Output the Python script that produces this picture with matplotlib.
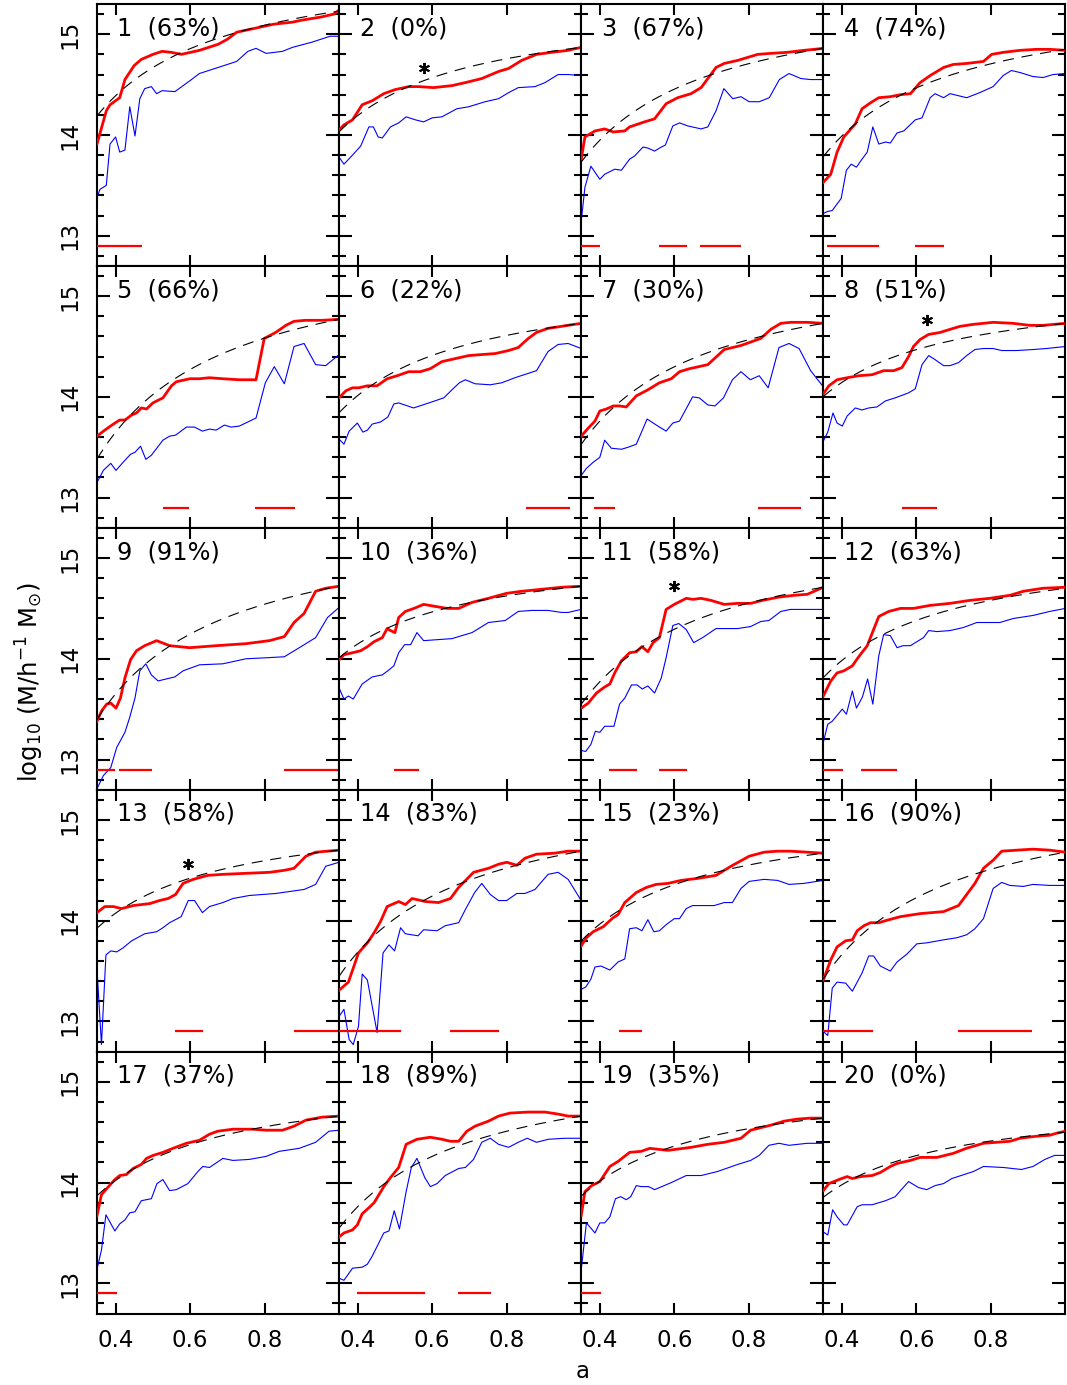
import numpy as np
import matplotlib
matplotlib.use("Agg")
import matplotlib.pyplot as plt
from matplotlib.ticker import MultipleLocator, FixedLocator

plt.rcParams['font.family'] = ['DejaVu Sans']

# ---------------------------------------------------------------------------
# Mass accretion histories: (expansion factor a, log10 M [M/h^-1 Msun])
# red = main halo, blue = second track
# ---------------------------------------------------------------------------
red01 = [(0.350,13.91),(0.375,14.24),(0.385,14.30),(0.400,14.34),(0.411,14.37),(0.425,14.55),(0.450,14.69),(0.469,14.75),(0.500,14.80),(0.525,14.83),(0.550,14.82),(0.576,14.80),(0.625,14.84),(0.675,14.90),(0.700,14.95),(0.725,15.02),(0.775,15.06),(0.825,15.10),(0.875,15.12),(0.900,15.14),(0.950,15.17),(0.986,15.20),(1.000,15.24)]
blue01 = [(0.350,13.38),(0.358,13.46),(0.375,13.50),(0.385,13.91),(0.400,13.98),(0.411,13.83),(0.425,13.85),(0.438,14.28),(0.452,13.99),(0.465,14.36),(0.478,14.46),(0.496,14.48),(0.510,14.41),(0.525,14.44),(0.559,14.43),(0.600,14.54),(0.625,14.61),(0.675,14.67),(0.725,14.73),(0.755,14.83),(0.777,14.86),(0.804,14.81),(0.848,14.83),(0.875,14.87),(0.926,14.92),(0.976,14.98),(1.000,14.98)]

red02 = [(0.350,14.05),(0.363,14.10),(0.386,14.15),(0.412,14.30),(0.439,14.34),(0.470,14.41),(0.500,14.45),(0.537,14.48),(0.564,14.48),(0.604,14.47),(0.653,14.49),(0.689,14.52),(0.733,14.56),(0.778,14.63),(0.805,14.66),(0.840,14.74),(0.880,14.80),(0.920,14.82),(0.965,14.84),(1.000,14.87)]
blue02 = [(0.350,13.78),(0.363,13.71),(0.386,13.80),(0.408,13.89),(0.430,14.08),(0.442,14.08),(0.455,13.98),(0.466,13.97),(0.488,14.08),(0.510,14.12),(0.530,14.18),(0.555,14.15),(0.577,14.13),(0.600,14.17),(0.626,14.18),(0.666,14.26),(0.698,14.28),(0.742,14.33),(0.778,14.36),(0.805,14.42),(0.831,14.47),(0.876,14.48),(0.903,14.52),(0.938,14.60),(0.965,14.60),(1.000,14.59)]

red03 = [(0.350,13.76),(0.360,13.98),(0.387,14.04),(0.413,14.06),(0.436,14.03),(0.467,14.04),(0.480,14.08),(0.520,14.13),(0.547,14.16),(0.578,14.31),(0.609,14.37),(0.645,14.41),(0.672,14.47),(0.712,14.67),(0.734,14.71),(0.770,14.74),(0.797,14.77),(0.824,14.80),(0.859,14.81),(0.903,14.82),(0.948,14.84),(0.975,14.85),(1.000,14.86)]
blue03 = [(0.350,13.14),(0.360,13.48),(0.376,13.69),(0.400,13.56),(0.413,13.61),(0.440,13.66),(0.458,13.65),(0.480,13.76),(0.493,13.79),(0.516,13.88),(0.529,13.87),(0.547,13.84),(0.565,13.88),(0.576,13.90),(0.596,14.09),(0.614,14.12),(0.636,14.09),(0.672,14.06),(0.690,14.08),(0.712,14.24),(0.733,14.46),(0.757,14.36),(0.779,14.38),(0.801,14.33),(0.828,14.33),(0.855,14.37),(0.882,14.55),(0.908,14.61),(0.940,14.56),(0.966,14.55),(1.000,14.55)]

red04 = [(0.350,13.53),(0.370,13.61),(0.387,13.83),(0.405,13.98),(0.436,14.11),(0.454,14.26),(0.477,14.32),(0.499,14.37),(0.530,14.38),(0.557,14.40),(0.584,14.41),(0.610,14.52),(0.637,14.59),(0.673,14.67),(0.699,14.70),(0.735,14.71),(0.780,14.73),(0.802,14.80),(0.833,14.82),(0.878,14.84),(0.922,14.85),(0.958,14.85),(1.000,14.84)]
blue04 = [(0.350,13.22),(0.361,13.24),(0.374,13.25),(0.398,13.37),(0.412,13.65),(0.425,13.71),(0.439,13.68),(0.452,13.75),(0.468,13.83),(0.483,14.08),(0.499,13.91),(0.517,13.93),(0.530,13.92),(0.548,14.02),(0.566,14.04),(0.597,14.15),(0.615,14.17),(0.637,14.37),(0.650,14.41),(0.673,14.37),(0.690,14.41),(0.735,14.37),(0.770,14.42),(0.806,14.48),(0.833,14.59),(0.855,14.64),(0.878,14.62),(0.913,14.58),(0.940,14.57),(0.967,14.60),(1.000,14.61)]

red05 = [(0.350,13.61),(0.371,13.67),(0.394,13.73),(0.411,13.77),(0.425,13.77),(0.443,13.82),(0.456,13.84),(0.469,13.89),(0.483,13.88),(0.500,13.94),(0.527,13.99),(0.550,14.11),(0.563,14.15),(0.599,14.18),(0.625,14.18),(0.652,14.19),(0.688,14.18),(0.732,14.17),(0.777,14.17),(0.799,14.58),(0.830,14.64),(0.857,14.71),(0.879,14.75),(0.910,14.76),(0.955,14.76),(1.000,14.77)]
blue05 = [(0.350,13.15),(0.367,13.27),(0.387,13.34),(0.401,13.27),(0.420,13.35),(0.440,13.43),(0.452,13.45),(0.467,13.51),(0.481,13.38),(0.496,13.42),(0.527,13.57),(0.545,13.61),(0.561,13.62),(0.590,13.70),(0.612,13.70),(0.633,13.66),(0.652,13.68),(0.670,13.67),(0.692,13.72),(0.710,13.70),(0.732,13.71),(0.777,13.79),(0.802,14.14),(0.826,14.30),(0.853,14.13),(0.879,14.50),(0.906,14.53),(0.937,14.32),(0.964,14.31),(1.000,14.42)]

red06 = [(0.350,13.99),(0.368,14.06),(0.386,14.09),(0.403,14.09),(0.426,14.11),(0.452,14.11),(0.479,14.18),(0.506,14.21),(0.537,14.25),(0.568,14.25),(0.595,14.28),(0.626,14.35),(0.662,14.38),(0.698,14.41),(0.733,14.42),(0.769,14.43),(0.805,14.46),(0.831,14.49),(0.858,14.58),(0.880,14.64),(0.911,14.68),(0.947,14.70),(1.000,14.73)]
blue06 = [(0.350,13.58),(0.363,13.53),(0.377,13.66),(0.399,13.74),(0.414,13.65),(0.426,13.67),(0.439,13.73),(0.461,13.75),(0.481,13.80),(0.497,13.93),(0.510,13.94),(0.550,13.89),(0.591,13.94),(0.631,13.99),(0.653,14.07),(0.673,14.14),(0.689,14.17),(0.715,14.13),(0.756,14.12),(0.787,14.14),(0.822,14.19),(0.880,14.26),(0.911,14.45),(0.938,14.52),(0.965,14.53),(1.000,14.48)]

red07 = [(0.350,13.61),(0.369,13.69),(0.387,13.76),(0.400,13.86),(0.418,13.88),(0.436,13.91),(0.453,13.91),(0.471,13.90),(0.498,14.01),(0.529,14.07),(0.560,14.14),(0.592,14.18),(0.614,14.25),(0.641,14.28),(0.690,14.32),(0.734,14.47),(0.779,14.51),(0.832,14.58),(0.859,14.67),(0.886,14.73),(0.912,14.74),(0.957,14.74),(1.000,14.73)]
blue07 = [(0.350,13.22),(0.364,13.29),(0.382,13.35),(0.400,13.40),(0.413,13.57),(0.431,13.49),(0.458,13.48),(0.476,13.50),(0.498,13.53),(0.527,13.78),(0.556,13.71),(0.578,13.66),(0.596,13.74),(0.614,13.76),(0.649,14.00),(0.667,13.99),(0.690,13.92),(0.709,13.91),(0.732,13.99),(0.756,14.17),(0.779,14.25),(0.804,14.17),(0.828,14.21),(0.852,14.09),(0.881,14.49),(0.908,14.53),(0.935,14.48),(0.966,14.26),(1.000,14.10)]

red08 = [(0.350,14.03),(0.365,14.11),(0.387,14.17),(0.414,14.19),(0.445,14.21),(0.481,14.22),(0.512,14.26),(0.539,14.26),(0.561,14.29),(0.579,14.40),(0.592,14.50),(0.610,14.57),(0.633,14.62),(0.664,14.64),(0.690,14.67),(0.717,14.70),(0.753,14.72),(0.806,14.74),(0.860,14.73),(0.904,14.71),(0.940,14.71),(1.000,14.73)]
blue08 = [(0.350,13.56),(0.362,13.65),(0.376,13.84),(0.387,13.74),(0.401,13.71),(0.414,13.81),(0.436,13.89),(0.454,13.87),(0.472,13.89),(0.494,13.90),(0.517,13.96),(0.543,13.99),(0.579,14.04),(0.597,14.08),(0.615,14.32),(0.633,14.41),(0.650,14.37),(0.673,14.31),(0.690,14.31),(0.713,14.34),(0.735,14.41),(0.757,14.47),(0.780,14.48),(0.806,14.48),(0.829,14.46),(0.869,14.46),(0.913,14.47),(0.949,14.48),(1.000,14.50)]

red09 = [(0.350,13.38),(0.362,13.48),(0.376,13.55),(0.387,13.56),(0.401,13.51),(0.413,13.61),(0.425,13.81),(0.440,13.99),(0.456,14.08),(0.478,14.13),(0.510,14.18),(0.545,14.13),(0.599,14.11),(0.670,14.13),(0.750,14.15),(0.813,14.18),(0.853,14.22),(0.879,14.36),(0.906,14.45),(0.937,14.67),(0.964,14.70),(1.000,14.72)]
blue09 = [(0.350,12.71),(0.367,12.84),(0.387,12.92),(0.403,13.12),(0.425,13.27),(0.438,13.42),(0.452,13.61),(0.465,13.88),(0.481,13.95),(0.496,13.84),(0.514,13.78),(0.559,13.82),(0.581,13.88),(0.625,13.94),(0.688,13.95),(0.750,14.00),(0.804,14.01),(0.853,14.02),(0.902,14.13),(0.937,14.21),(0.969,14.41),(1.000,14.51)]

red10 = [(0.350,13.99),(0.363,14.04),(0.386,14.06),(0.408,14.08),(0.426,14.12),(0.444,14.17),(0.466,14.21),(0.479,14.30),(0.488,14.28),(0.500,14.26),(0.510,14.41),(0.528,14.47),(0.551,14.50),(0.577,14.54),(0.608,14.52),(0.640,14.50),(0.671,14.50),(0.707,14.56),(0.751,14.60),(0.800,14.65),(0.840,14.67),(0.894,14.69),(0.947,14.71),(1.000,14.72)]
blue10 = [(0.350,13.71),(0.363,13.60),(0.375,13.63),(0.388,13.60),(0.412,13.75),(0.439,13.82),(0.466,13.84),(0.484,13.89),(0.497,13.93),(0.510,14.06),(0.526,14.14),(0.542,14.14),(0.559,14.26),(0.577,14.18),(0.653,14.20),(0.707,14.26),(0.751,14.36),(0.796,14.38),(0.831,14.47),(0.867,14.48),(0.911,14.48),(0.947,14.46),(0.965,14.46),(1.000,14.49)]

red11 = [(0.350,13.51),(0.369,13.56),(0.391,13.66),(0.413,13.72),(0.427,13.75),(0.440,13.86),(0.458,13.98),(0.480,14.06),(0.498,14.07),(0.513,14.12),(0.529,14.07),(0.543,14.16),(0.560,14.21),(0.578,14.49),(0.600,14.54),(0.632,14.60),(0.650,14.59),(0.672,14.60),(0.698,14.58),(0.734,14.54),(0.770,14.55),(0.805,14.55),(0.837,14.58),(0.877,14.61),(0.921,14.63),(0.957,14.64),(1.000,14.71)]
blue11 = [(0.350,13.09),(0.362,13.08),(0.376,13.15),(0.388,13.28),(0.400,13.27),(0.413,13.33),(0.438,13.33),(0.453,13.55),(0.467,13.61),(0.485,13.74),(0.500,13.74),(0.514,13.70),(0.529,13.73),(0.547,13.66),(0.565,13.81),(0.578,14.01),(0.596,14.33),(0.612,14.35),(0.632,14.29),(0.652,14.16),(0.676,14.21),(0.712,14.30),(0.770,14.30),(0.805,14.32),(0.832,14.37),(0.854,14.38),(0.886,14.47),(0.912,14.49),(0.948,14.49),(1.000,14.49)]

red12 = [(0.350,13.63),(0.370,13.78),(0.387,13.86),(0.405,13.88),(0.428,13.93),(0.445,14.02),(0.468,14.13),(0.484,14.28),(0.499,14.42),(0.526,14.47),(0.557,14.50),(0.592,14.50),(0.637,14.53),(0.690,14.55),(0.744,14.58),(0.797,14.60),(0.851,14.63),(0.887,14.67),(0.940,14.70),(1.000,14.71)]
blue12 = [(0.350,13.17),(0.362,13.35),(0.374,13.38),(0.401,13.50),(0.412,13.45),(0.428,13.68),(0.439,13.51),(0.455,13.62),(0.469,13.80),(0.483,13.55),(0.499,14.03),(0.512,14.24),(0.530,14.23),(0.548,14.11),(0.564,14.13),(0.584,14.13),(0.619,14.21),(0.633,14.28),(0.655,14.27),(0.690,14.28),(0.726,14.31),(0.762,14.36),(0.824,14.36),(0.860,14.40),(0.913,14.43),(0.958,14.47),(1.000,14.50)]

red13 = [(0.350,14.08),(0.371,14.14),(0.394,14.14),(0.416,14.12),(0.447,14.15),(0.492,14.17),(0.518,14.20),(0.541,14.22),(0.561,14.26),(0.581,14.37),(0.608,14.41),(0.648,14.45),(0.688,14.46),(0.750,14.47),(0.813,14.48),(0.853,14.50),(0.879,14.52),(0.911,14.64),(0.937,14.68),(1.000,14.70)]
blue13 = [(0.350,13.52),(0.362,12.77),(0.374,13.66),(0.387,13.70),(0.403,13.69),(0.420,13.73),(0.443,13.80),(0.478,13.87),(0.510,13.89),(0.527,13.93),(0.545,13.98),(0.576,14.04),(0.595,14.20),(0.612,14.20),(0.633,14.08),(0.652,14.14),(0.688,14.18),(0.715,14.22),(0.759,14.25),(0.830,14.27),(0.906,14.31),(0.937,14.36),(0.964,14.54),(1.000,14.58)]

red14 = [(0.350,13.31),(0.375,13.39),(0.390,13.55),(0.402,13.68),(0.426,13.78),(0.444,13.88),(0.461,13.99),(0.479,14.14),(0.510,14.19),(0.528,14.16),(0.546,14.22),(0.582,14.19),(0.617,14.18),(0.649,14.22),(0.671,14.33),(0.711,14.48),(0.751,14.52),(0.778,14.56),(0.800,14.58),(0.827,14.55),(0.849,14.62),(0.880,14.66),(0.929,14.67),(0.965,14.69),(1.000,14.69)]
blue14 = [(0.350,13.05),(0.363,13.12),(0.377,12.82),(0.388,12.77),(0.402,12.95),(0.412,13.47),(0.426,13.41),(0.452,12.89),(0.468,13.68),(0.484,13.76),(0.499,13.70),(0.515,13.93),(0.528,13.87),(0.562,13.85),(0.577,13.91),(0.613,13.90),(0.635,13.95),(0.671,13.98),(0.689,14.11),(0.714,14.28),(0.733,14.37),(0.756,14.26),(0.778,14.20),(0.800,14.20),(0.827,14.27),(0.849,14.27),(0.876,14.31),(0.911,14.46),(0.938,14.48),(0.965,14.41),(1.000,14.20)]

red15 = [(0.350,13.75),(0.364,13.83),(0.382,13.89),(0.409,13.94),(0.436,14.03),(0.449,14.06),(0.467,14.18),(0.498,14.28),(0.525,14.33),(0.551,14.36),(0.583,14.37),(0.618,14.40),(0.663,14.42),(0.712,14.45),(0.752,14.54),(0.801,14.64),(0.841,14.68),(0.877,14.69),(0.912,14.69),(0.957,14.68),(1.000,14.67)]
blue15 = [(0.350,13.32),(0.362,13.34),(0.376,13.42),(0.387,13.54),(0.403,13.55),(0.427,13.51),(0.449,13.59),(0.467,13.62),(0.480,13.92),(0.498,13.93),(0.513,13.90),(0.529,14.01),(0.545,13.89),(0.560,13.90),(0.578,13.96),(0.600,14.02),(0.614,14.02),(0.632,14.12),(0.649,14.15),(0.707,14.15),(0.734,14.18),(0.756,14.18),(0.779,14.32),(0.801,14.39),(0.841,14.41),(0.877,14.40),(0.908,14.36),(0.948,14.37),(1.000,14.40)]

red16 = [(0.350,13.41),(0.370,13.61),(0.387,13.74),(0.410,13.80),(0.428,13.81),(0.441,13.90),(0.459,13.95),(0.477,13.98),(0.499,13.98),(0.517,14.00),(0.557,14.04),(0.610,14.07),(0.673,14.09),(0.713,14.15),(0.739,14.28),(0.757,14.37),(0.780,14.52),(0.806,14.60),(0.829,14.69),(0.869,14.70),(0.913,14.71),(0.958,14.70),(1.000,14.68)]
blue16 = [(0.350,12.90),(0.362,12.86),(0.374,13.33),(0.387,13.39),(0.410,13.38),(0.428,13.30),(0.454,13.48),(0.472,13.65),(0.485,13.65),(0.503,13.55),(0.530,13.50),(0.548,13.59),(0.575,13.67),(0.601,13.77),(0.628,13.78),(0.673,13.81),(0.708,13.83),(0.735,13.86),(0.757,13.92),(0.780,14.02),(0.806,14.32),(0.829,14.38),(0.851,14.35),(0.887,14.34),(0.913,14.36),(0.958,14.35),(1.000,14.35)]

red17 = [(0.350,13.67),(0.362,13.88),(0.376,13.94),(0.398,14.03),(0.411,14.07),(0.429,14.08),(0.447,14.14),(0.469,14.18),(0.483,14.24),(0.501,14.27),(0.527,14.30),(0.554,14.34),(0.590,14.39),(0.625,14.42),(0.652,14.48),(0.674,14.51),(0.715,14.53),(0.768,14.53),(0.804,14.52),(0.848,14.52),(0.879,14.56),(0.911,14.62),(0.955,14.65),(1.000,14.66)]
blue17 = [(0.350,13.14),(0.362,13.33),(0.374,13.68),(0.398,13.52),(0.411,13.59),(0.425,13.63),(0.438,13.70),(0.452,13.71),(0.469,13.82),(0.496,13.84),(0.511,13.99),(0.527,14.03),(0.545,13.92),(0.563,13.93),(0.594,13.99),(0.621,14.11),(0.634,14.16),(0.652,14.15),(0.688,14.24),(0.715,14.22),(0.759,14.23),(0.804,14.26),(0.839,14.31),(0.893,14.34),(0.937,14.40),(0.973,14.51),(1.000,14.52)]

red18 = [(0.350,13.46),(0.363,13.50),(0.386,13.53),(0.399,13.58),(0.412,13.69),(0.430,13.75),(0.444,13.80),(0.470,13.96),(0.488,14.05),(0.510,14.15),(0.530,14.38),(0.559,14.43),(0.595,14.45),(0.626,14.43),(0.649,14.41),(0.671,14.41),(0.693,14.51),(0.715,14.56),(0.751,14.61),(0.778,14.66),(0.809,14.69),(0.858,14.70),(0.903,14.70),(0.938,14.68),(0.965,14.66),(1.000,14.66)]
blue18 = [(0.350,13.05),(0.363,13.03),(0.386,13.15),(0.412,13.16),(0.426,13.19),(0.439,13.27),(0.470,13.50),(0.484,13.52),(0.498,13.72),(0.512,13.54),(0.530,13.91),(0.544,14.15),(0.559,14.24),(0.580,14.05),(0.595,13.96),(0.613,13.99),(0.635,14.07),(0.671,14.14),(0.689,14.15),(0.711,14.23),(0.733,14.40),(0.756,14.44),(0.778,14.38),(0.805,14.35),(0.831,14.40),(0.855,14.44),(0.880,14.40),(0.912,14.43),(0.956,14.44),(1.000,14.44)]

red19 = [(0.350,13.67),(0.360,13.91),(0.378,13.97),(0.400,14.01),(0.427,14.16),(0.449,14.21),(0.480,14.30),(0.511,14.31),(0.534,14.34),(0.583,14.32),(0.645,14.35),(0.690,14.38),(0.734,14.40),(0.779,14.44),(0.805,14.52),(0.859,14.57),(0.895,14.61),(0.930,14.63),(0.966,14.64),(1.000,14.64)]
blue19 = [(0.350,13.13),(0.364,13.60),(0.387,13.50),(0.400,13.60),(0.413,13.60),(0.427,13.66),(0.442,13.84),(0.456,13.86),(0.471,13.83),(0.483,13.86),(0.498,13.97),(0.511,13.96),(0.531,13.96),(0.547,13.93),(0.592,14.00),(0.632,14.07),(0.672,14.07),(0.716,14.11),(0.770,14.18),(0.805,14.22),(0.828,14.27),(0.854,14.37),(0.881,14.39),(0.908,14.37),(0.957,14.39),(1.000,14.39)]

red20 = [(0.350,13.92),(0.365,13.99),(0.392,14.03),(0.414,14.06),(0.428,14.04),(0.450,14.06),(0.481,14.07),(0.503,14.10),(0.530,14.16),(0.548,14.19),(0.584,14.22),(0.610,14.25),(0.655,14.25),(0.699,14.29),(0.734,14.34),(0.780,14.39),(0.815,14.40),(0.851,14.41),(0.878,14.44),(0.922,14.46),(0.958,14.47),(0.976,14.49),(1.000,14.51)]
blue20 = [(0.350,13.51),(0.362,13.48),(0.375,13.73),(0.387,13.66),(0.405,13.58),(0.414,13.58),(0.441,13.76),(0.454,13.78),(0.481,13.78),(0.517,13.82),(0.543,13.86),(0.557,13.92),(0.579,14.01),(0.606,13.95),(0.628,13.93),(0.650,13.97),(0.673,13.99),(0.695,14.04),(0.753,14.11),(0.780,14.16),(0.833,14.15),(0.882,14.13),(0.913,14.16),(0.945,14.23),(0.971,14.27),(1.000,14.27)]

# Intervals in a flagged along the bottom of each panel
spans01 = [(0.350, 0.470)]
spans02 = []
spans03 = [(0.350, 0.400), (0.560, 0.635), (0.670, 0.780)]
spans04 = [(0.361, 0.500), (0.595, 0.673)]
spans05 = [(0.527, 0.597), (0.775, 0.882)]
spans06 = [(0.851, 0.970)]
spans07 = [(0.385, 0.442), (0.826, 0.939)]
spans08 = [(0.561, 0.655)]
spans09 = [(0.350, 0.398), (0.410, 0.499), (0.853, 1.000)]
spans10 = [(0.497, 0.564)]
spans11 = [(0.425, 0.500), (0.560, 0.634)]
spans12 = [(0.350, 0.403), (0.452, 0.548)]
spans13 = [(0.559, 0.634), (0.878, 1.000)]
spans14 = [(0.350, 0.515), (0.649, 0.780)]
spans15 = [(0.452, 0.514)]
spans16 = [(0.350, 0.484), (0.711, 0.911)]
spans17 = [(0.350, 0.403)]
spans18 = [(0.399, 0.580), (0.669, 0.757)]
spans19 = [(0.350, 0.403)]
spans20 = []
span_level = 12.9

# Panel percentages
percent = [63, 0, 67, 74, 66, 22, 30, 51, 91, 36, 58, 63, 58, 83, 23, 90, 37, 89, 35, 0]

# Exponential fit  M(z) = M0 exp(-2 a_c z): log10 M0 and a_c per halo
fit_logm0 = [15.23, 14.87, 14.86, 14.85, 14.77, 14.73, 14.73, 14.73, 14.72, 14.72,
             14.71, 14.70, 14.70, 14.69, 14.67, 14.68, 14.66, 14.66, 14.64, 14.50]
fit_ac = [0.645, 0.52, 0.70, 0.66, 0.86, 0.55, 0.745, 0.45, 0.82, 0.44,
          0.72, 0.55, 0.48, 0.77, 0.54, 0.78, 0.49, 0.69, 0.48, 0.40]

# Marked epochs
star_panel = [2, 8, 11, 13]
star_a = [0.577, 0.628, 0.600, 0.595]
star_logm = [14.66, 14.76, 14.72, 14.56]

reds = [red01, red02, red03, red04, red05, red06, red07, red08, red09, red10,
        red11, red12, red13, red14, red15, red16, red17, red18, red19, red20]
blues = [blue01, blue02, blue03, blue04, blue05, blue06, blue07, blue08, blue09, blue10,
         blue11, blue12, blue13, blue14, blue15, blue16, blue17, blue18, blue19, blue20]
spans = [spans01, spans02, spans03, spans04, spans05, spans06, spans07, spans08, spans09, spans10,
         spans11, spans12, spans13, spans14, spans15, spans16, spans17, spans18, spans19, spans20]

FS = 16.5
FS_PANEL = 17.3

fig, axes = plt.subplots(5, 4, figsize=(10.67, 13.85), dpi=100, sharex=True, sharey=True)
fig.subplots_adjust(left=0.0909, right=0.9985, top=0.9971, bottom=0.0516,
                    wspace=0, hspace=0)

a_fit = np.linspace(0.35, 1.0, 300)

for k, ax in enumerate(axes.flat):
    ax.set_xlim(0.35, 1.0)
    ax.set_ylim(12.7, 15.3)

    ab, mb = zip(*blues[k])
    ax.plot(ab, mb, color='blue', lw=0.8, zorder=2)
    ar, mr = zip(*reds[k])
    ax.plot(ar, mr, color='red', lw=2.0, zorder=3)

    for s, e in spans[k]:
        ax.plot([s, e], [span_level, span_level], color='red', lw=1.6,
                solid_capstyle='butt', zorder=3)

    fit = fit_logm0[k] - 2.0 * fit_ac[k] * (1.0 / a_fit - 1.0) / np.log(10)
    ax.plot(a_fit, fit, color='black', lw=0.8, dashes=(10, 7), zorder=4)

    for p, sa, sm in zip(star_panel, star_a, star_logm):
        if p == k + 1:
            ax.plot([sa], [sm], marker=(6, 2, 0), color='black', ms=8,
                    mew=1.4, zorder=5)

    ax.text(0.405, 14.99, f"{k + 1}  ({percent[k]}%)", fontsize=FS_PANEL,
            ha='left', va='baseline', zorder=6)

    ax.xaxis.set_major_locator(FixedLocator([0.4, 0.6, 0.8]))
    ax.yaxis.set_major_locator(MultipleLocator(1.0))
    ax.yaxis.set_minor_locator(MultipleLocator(0.2))
    ax.tick_params(which='both', direction='in', top=True, right=True,
                   width=1.5, labelsize=FS)
    ax.tick_params(axis='y', which='major', length=9.5, pad=11)
    ax.tick_params(axis='y', which='minor', length=4.7)
    ax.tick_params(axis='x', which='major', length=8, pad=11)
    ax.tick_params(axis='x', which='minor', length=0)
    for sp in ax.spines.values():
        sp.set_linewidth(1.5)

for ax in axes[:, 0]:
    ax.set_yticks([13, 14, 15])
    ax.set_yticklabels(['13', '14', '15'], rotation=90, va='center')

fig.text(30 / 1067, 1 - 682 / 1385, r'log$_{10}$ (M/h$^{-1}$ M$_{\odot}$)',
         rotation=90, ha='center', va='center', fontsize=17.5)
fig.text(583 / 1067, 1 - 1372 / 1385, 'a', ha='center', va='center', fontsize=FS)

fig.savefig('out.png', dpi=100)
